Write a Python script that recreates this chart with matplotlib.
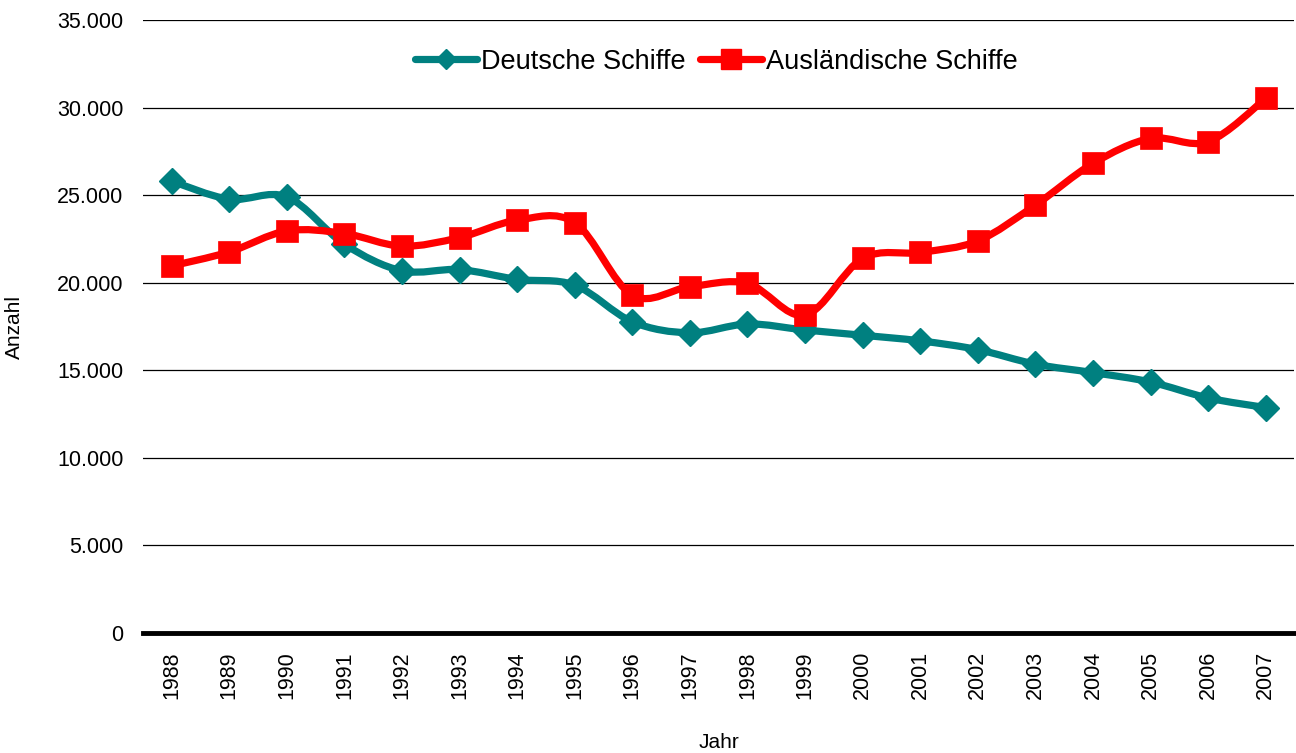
import matplotlib
matplotlib.use("Agg")
import matplotlib.pyplot as plt
import numpy as np
from matplotlib.path import Path
from matplotlib.patches import PathPatch
from matplotlib.lines import Line2D
from matplotlib.ticker import FuncFormatter

plt.rcParams['font.family'] = ['Liberation Sans', 'DejaVu Sans']

years = ['1988', '1989', '1990', '1991', '1992', '1993', '1994', '1995', '1996', '1997',
         '1998', '1999', '2000', '2001', '2002', '2003', '2004', '2005', '2006', '2007']
deutsche = [25800, 24770, 24900, 22200, 20680, 20750, 20190, 19860, 17770, 17140,
            17640, 17300, 17000, 16680, 16180, 15350, 14870, 14330, 13420, 12870]
auslaendische = [20960, 21760, 22960, 22810, 22090, 22580, 23570, 23430, 19290, 19770,
                 19960, 18150, 21390, 21730, 22390, 24430, 26810, 28240, 28050, 30520]

TEAL = '#008080'
RED = '#FF0000'


def smooth_path(x, y):
    """Catmull-Rom style cubic Bezier through the points (like smoothed spreadsheet lines)."""
    pts = np.column_stack([x, y]).astype(float)
    n = len(pts)
    verts = [pts[0]]
    codes = [Path.MOVETO]
    for i in range(n - 1):
        p0 = pts[i - 1] if i > 0 else pts[i]
        p1 = pts[i]
        p2 = pts[i + 1]
        p3 = pts[i + 2] if i + 2 < n else pts[i + 1]
        c1 = p1 + (p2 - p0) / 6.0
        c2 = p2 - (p3 - p1) / 6.0
        verts += [c1, c2, p2]
        codes += [Path.CURVE4] * 3
    return Path(verts, codes)


fig = plt.figure(figsize=(12.96, 7.53), dpi=100)
ax = fig.add_axes([0.1103, 0.1594, 0.8885, 0.8140])

x = np.arange(len(years))

for series, color in ((deutsche, TEAL), (auslaendische, RED)):
    patch = PathPatch(smooth_path(x, series), facecolor='none', edgecolor=color,
                      lw=5.2, capstyle='round', joinstyle='round', zorder=3)
    ax.add_patch(patch)

ax.plot(x, deutsche, linestyle='none', marker='D', markersize=13,
        markerfacecolor=TEAL, markeredgecolor=TEAL, markeredgewidth=1, zorder=4)
ax.plot(x, auslaendische, linestyle='none', marker='s', markersize=16,
        markerfacecolor=RED, markeredgecolor=RED, markeredgewidth=0.5, zorder=4)

ax.set_xlim(-0.5, len(years) - 0.5)
ax.set_ylim(0, 35000)
ax.set_yticks(np.arange(0, 35001, 5000))
ax.yaxis.set_major_formatter(FuncFormatter(lambda v, p: f"{v:,.0f}".replace(',', '.')))
ax.set_xticks(x)
ax.set_xticklabels(years, rotation=90)

ax.tick_params(axis='both', length=0, labelsize=15.5)
ax.tick_params(axis='y', pad=14)
ax.tick_params(axis='x', pad=13)

ax.grid(axis='y', color='#000000', lw=0.9, zorder=1)
ax.set_axisbelow(True)
for side in ('left', 'right', 'top'):
    ax.spines[side].set_visible(False)
ax.spines['bottom'].set_linewidth(3.5)
ax.spines['bottom'].set_color('black')
ax.spines['bottom'].set_zorder(5)

ax.set_ylabel('Anzahl', fontsize=15)
ax.set_xlabel('Jahr', fontsize=15)
ax.yaxis.set_label_coords(-0.103, 0.5)
ax.xaxis.set_label_coords(0.5, -0.163)

handles = [
    Line2D([], [], color=TEAL, lw=5.2, marker='D', markersize=10,
           markerfacecolor=TEAL, markeredgecolor=TEAL, solid_capstyle='round'),
    Line2D([], [], color=RED, lw=5.2, marker='s', markersize=14,
           markerfacecolor=RED, markeredgecolor=RED, solid_capstyle='round'),
]
ax.legend(handles, ['Deutsche Schiffe', 'Ausländische Schiffe'], loc='center',
          bbox_to_anchor=(0.498, 0.932), ncol=2, frameon=False, fontsize=19.5,
          handlelength=2.3, handletextpad=0.15, columnspacing=0.5)

fig.savefig('out.png', dpi=100)
